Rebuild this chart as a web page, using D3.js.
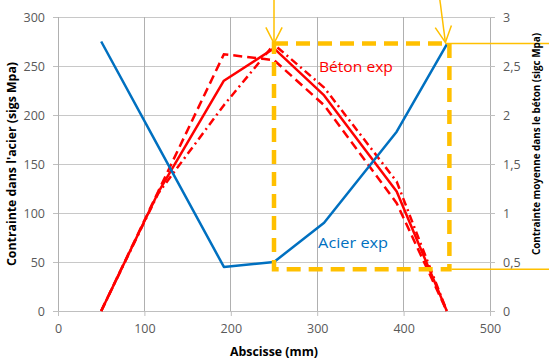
<!DOCTYPE html>
<html><head><meta charset="utf-8">
<script src="https://cdn.jsdelivr.net/npm/d3@7"></script>
<style>body{margin:0;background:#fff}svg{display:block}</style>
</head><body>
<script>
// ---- data ----
const abscisse = [50, 108, 192, 250, 308, 392, 450];
const acierExp = [275, 181, 45, 50, 90, 183, 272];          // left axis (MPa)
const betonAbscisse = [50, 116, 192, 250, 308, 392, 450];
const betonExp = [0, 1.21, 2.35, 2.68, 2.2, 1.22, 0];        // right axis (MPa)
const betonDash = [0, 1.22, 2.62, 2.56, 2.1, 1.1, 0];
const betonDashDot = [0, 1.2, 2.1, 2.72, 2.28, 1.32, 0];
const xTicks = [0, 100, 200, 300, 400, 500];
const yLeftTicks = [0, 50, 100, 150, 200, 250, 300];
const yRightTicks = [0, 0.5, 1, 1.5, 2, 2.5, 3];
// annotation box (x in mm, y in right-axis units)
const boxX = [250, 453];
const boxY = [0.425, 2.73];

const W = 549, H = 361;
const svg = d3.select("body").append("svg").attr("width", W).attr("height", H);
const x = d3.scaleLinear().domain([0, 500]).range([58, 490]);
const yL = d3.scaleLinear().domain([0, 300]).range([311, 17]);
const yR = d3.scaleLinear().domain([0, 3]).range([311, 17]);
const font = "'Open Sans', sans-serif";

// grid
const g = svg.append("g");
g.selectAll("line.h").data(yLeftTicks).join("line")
  .attr("x1", x(0)).attr("x2", x(500)).attr("y1", d => yL(d)).attr("y2", d => yL(d))
  .attr("stroke", d => d === 0 ? "#bfbfbf" : "#c8c8c8").attr("stroke-width", 1).attr("shape-rendering", "crispEdges");
g.selectAll("line.v").data(xTicks).join("line")
  .attr("x1", d => x(d)).attr("x2", d => x(d)).attr("y1", yL(0)).attr("y2", yL(300))
  .attr("stroke", "#b0b0b0").attr("stroke-width", 1).attr("shape-rendering", "crispEdges");

// axes
const axL = svg.append("g").attr("transform", `translate(${x(0)},0)`)
  .call(d3.axisLeft(yL).tickValues(yLeftTicks).tickSize(5).tickPadding(8));
const axR = svg.append("g").attr("transform", `translate(${x(500)},0)`)
  .call(d3.axisRight(yR).tickValues(yRightTicks).tickSize(5).tickPadding(8).tickFormat(d => String(d).replace(".", ",")));
const axB = svg.append("g").attr("transform", `translate(0,${yL(0)})`)
  .call(d3.axisBottom(x).tickValues(xTicks).tickSize(5).tickPadding(8));
[axL, axR, axB].forEach(a => {
  a.select(".domain").remove();
  a.selectAll("line").attr("stroke", "#bfbfbf");
  a.selectAll("text").attr("fill", "#595959").style("font-family", font).style("font-size", "12.5px");
});

// lines
const lineL = d3.line().x((d, i) => x(abscisse[i])).y(d => yL(d));
const lineR = d3.line().x((d, i) => x(betonAbscisse[i])).y(d => yR(d));
svg.append("path").attr("d", lineR(betonDash)).attr("fill", "none").attr("stroke", "#ff0000")
  .attr("stroke-width", 2.5).attr("stroke-dasharray", "9,5");
svg.append("path").attr("d", lineR(betonDashDot)).attr("fill", "none").attr("stroke", "#ff0000")
  .attr("stroke-width", 2.5).attr("stroke-dasharray", "8,4,2,4");
svg.append("path").attr("d", lineR(betonExp)).attr("fill", "none").attr("stroke", "#ff0000")
  .attr("stroke-width", 2.5).attr("stroke-linejoin", "round");
svg.append("path").attr("d", lineL(acierExp)).attr("fill", "none").attr("stroke", "#0070c0")
  .attr("stroke-width", 2.5).attr("stroke-linejoin", "round");

// annotation box
const orange = "#ffc000";
svg.append("path")
  .attr("d", `M${x(boxX[0])},${yR(boxY[1])}H${x(boxX[1])}V${yR(boxY[0])}H${x(boxX[0])}Z`)
  .attr("fill", "none").attr("stroke", orange).attr("stroke-width", 4.5).attr("stroke-dasharray", "14,8");
// horizontal leader lines to the right edge
svg.append("line").attr("x1", x(boxX[1]) - 4).attr("x2", W).attr("y1", yR(boxY[1])).attr("y2", yR(boxY[1]))
  .attr("stroke", orange).attr("stroke-width", 1.5);
svg.append("line").attr("x1", x(boxX[1]) + 2).attr("x2", W).attr("y1", yR(boxY[0])).attr("y2", yR(boxY[0]))
  .attr("stroke", orange).attr("stroke-width", 1.5);
// arrows
function arrow(x0, y0, x1, y1) {
  svg.append("line").attr("x1", x0).attr("y1", y0).attr("x2", x1).attr("y2", y1)
    .attr("stroke", orange).attr("stroke-width", 1.5);
  const ang = Math.atan2(y1 - y0, x1 - x0), L = 18, a = 0.47;
  const p = [
    [x1 - L * Math.cos(ang - a), y1 - L * Math.sin(ang - a)],
    [x1, y1],
    [x1 - L * Math.cos(ang + a), y1 - L * Math.sin(ang + a)]];
  svg.append("path").attr("d", d3.line()(p)).attr("fill", "none").attr("stroke", orange).attr("stroke-width", 1.5);
}
arrow(x(boxX[0]), 0, x(boxX[0]), yR(boxY[1]));
arrow(x(442), 0, x(boxX[1]) - 4, yR(boxY[1]) - 1);

// series labels
svg.append("text").attr("x", x(302)).attr("y", yR(2.44)).text("Béton exp")
  .attr("fill", "#ff0000").style("font-family", font).style("font-size", "15px")
  .attr("textLength", 74).attr("lengthAdjust", "spacingAndGlyphs");
svg.append("text").attr("x", x(301)).attr("y", yR(0.64)).text("Acier exp")
  .attr("fill", "#0070c0").style("font-family", font).style("font-size", "15px")
  .attr("textLength", 70).attr("lengthAdjust", "spacingAndGlyphs");

// axis titles
svg.append("text").attr("transform", "translate(16,164) rotate(-90)").attr("text-anchor", "middle")
  .text("Contrainte dans l'acier (sigs Mpa)").attr("fill", "#000").style("font-family", font)
  .style("font-size", "11.5px").style("font-weight", "bold")
  .attr("textLength", 204).attr("lengthAdjust", "spacingAndGlyphs");
svg.append("text").attr("transform", "translate(540,144) rotate(-90)").attr("text-anchor", "middle")
  .text("Contrainte moyenne dans le béton (sigc Mpa)").attr("fill", "#000").style("font-family", font)
  .style("font-size", "11px").style("font-weight", "bold")
  .attr("textLength", 222).attr("lengthAdjust", "spacingAndGlyphs");
svg.append("text").attr("x", 274).attr("y", 356).attr("text-anchor", "middle")
  .text("Abscisse (mm)").attr("fill", "#000").style("font-family", font)
  .style("font-size", "11.5px").style("font-weight", "bold")
  .attr("textLength", 88).attr("lengthAdjust", "spacingAndGlyphs");
</script>
</body></html>
